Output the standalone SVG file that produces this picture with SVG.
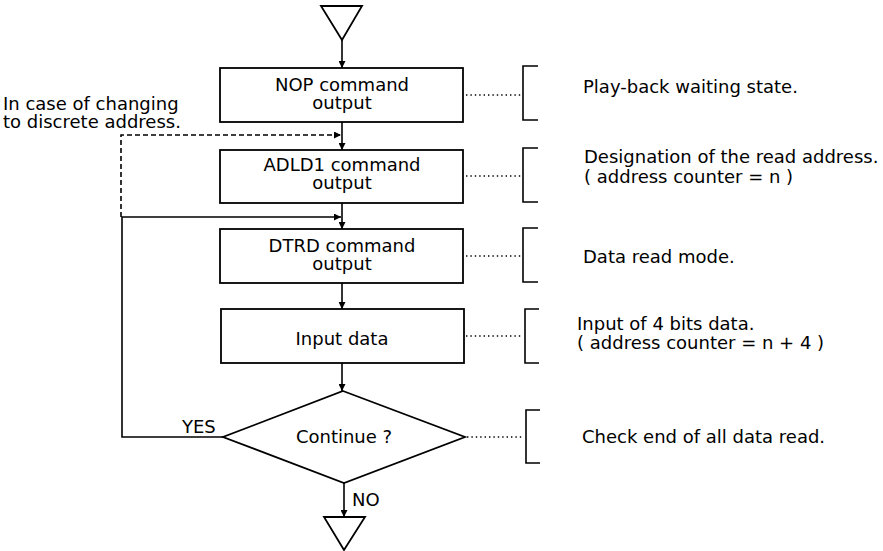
<svg xmlns="http://www.w3.org/2000/svg" width="883" height="551" viewBox="0 0 883 551">
<defs>
<marker id="ah" viewBox="0 0 10 10" refX="10" refY="5" markerWidth="9" markerHeight="7" markerUnits="userSpaceOnUse" orient="auto">
<path d="M0,0 L10,5 L0,10 z" fill="#000"/>
</marker>
</defs>
<style>
text{font-family:"DejaVu Sans","Open Sans",sans-serif;font-size:18px;fill:#000}
.c{text-anchor:middle}
.b{fill:#fff;stroke:#000;stroke-width:1.8}
.l{fill:none;stroke:#000;stroke-width:1.6}
.d{fill:none;stroke:#000;stroke-width:1.6;stroke-dasharray:5,3}
.dot{fill:none;stroke:#000;stroke-width:1.4;stroke-dasharray:1.4,3}
.br{fill:none;stroke:#000;stroke-width:1.6}
</style>
<rect width="883" height="551" fill="#fff"/>
<g id="connectors">
<line class="l" x1="342" y1="40" x2="342" y2="68" marker-end="url(#ah)"/>
<line class="l" x1="342" y1="122" x2="342" y2="150" marker-end="url(#ah)"/>
<line class="l" x1="342" y1="203" x2="342" y2="229" marker-end="url(#ah)"/>
<line class="l" x1="342" y1="283" x2="342" y2="309" marker-end="url(#ah)"/>
<line class="l" x1="342" y1="363" x2="342" y2="391" marker-end="url(#ah)"/>
<line class="l" x1="344" y1="483" x2="344" y2="517" marker-end="url(#ah)"/>
<polyline class="d" points="121,217 121,135 341,135" marker-end="url(#ah)"/>
<polyline class="l" points="223,437 122,437 122,217 341,217" marker-end="url(#ah)"/>
<line class="dot" x1="466" y1="95" x2="521" y2="95"/>
<line class="dot" x1="466" y1="176" x2="521" y2="176"/>
<line class="dot" x1="466" y1="256" x2="521" y2="256"/>
<line class="dot" x1="466" y1="336" x2="523" y2="336"/>
<line class="dot" x1="467" y1="437" x2="524" y2="437"/>
</g>
<g id="start"><polygon class="b" points="321,6 362,6 342,40"/></g>
<g id="end"><polygon class="b" points="324,517 365,517 344,550"/></g>
<g id="nop">
<rect class="b" x="220" y="68" width="243" height="54"/>
<text class="c" x="342" y="91">NOP command</text>
<text class="c" x="342" y="109">output</text>
</g>
<g id="adld1">
<rect class="b" x="220" y="150" width="243" height="53"/>
<text class="c" x="342" y="171">ADLD1 command</text>
<text class="c" x="342" y="189">output</text>
</g>
<g id="dtrd">
<rect class="b" x="220" y="229" width="243" height="54"/>
<text class="c" x="342" y="252">DTRD command</text>
<text class="c" x="342" y="270">output</text>
</g>
<g id="input">
<rect class="b" x="221" y="309" width="243" height="54"/>
<text class="c" x="342" y="345">Input data</text>
</g>
<g id="continue">
<polygon class="b" points="343,391 465,437 344,483 223,437"/>
<text class="c" x="344" y="443">Continue ?</text>
<text x="182" y="433">YES</text>
<text x="352" y="506">NO</text>
</g>
<g id="note-discrete">
<text x="3" y="110">In case of changing</text>
<text x="3" y="128">to discrete address.</text>
</g>
<g id="br-nop">
<polyline class="br" points="538,66 523,66 523,120 538,120"/>
<text x="583" y="93">Play-back waiting state.</text>
</g>
<g id="br-adld1">
<polyline class="br" points="538,148 523,148 523,202 538,202"/>
<text x="584" y="163">Designation of the read address.</text>
<text x="584" y="183">( address counter = n )</text>
</g>
<g id="br-dtrd">
<polyline class="br" points="538,228 523,228 523,282 538,282"/>
<text x="583" y="263">Data read mode.</text>
</g>
<g id="br-input">
<polyline class="br" points="539,309 525,309 525,363 539,363"/>
<text x="577" y="330">Input of 4 bits data.</text>
<text x="577" y="349">( address counter = n + 4 )</text>
</g>
<g id="br-continue">
<polyline class="br" points="540,410 526,410 526,463 540,463"/>
<text x="582" y="443">Check end of all data read.</text>
</g>
</svg>
